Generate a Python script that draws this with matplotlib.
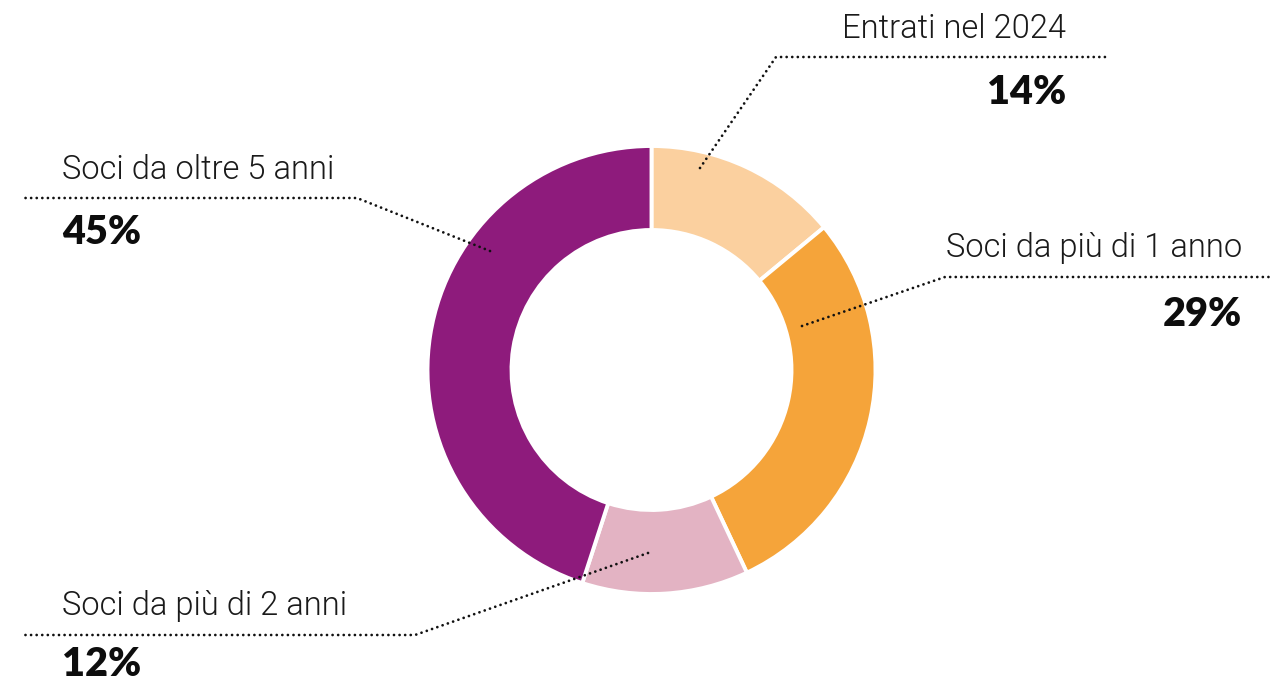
import matplotlib
matplotlib.use("Agg")
import matplotlib.pyplot as plt

labels = ["Entrati nel 2024", "Soci da più di 1 anno", "Soci da più di 2 anni", "Soci da oltre 5 anni"]
values = [14, 29, 12, 45]
colors = ["#FBD09F", "#F5A43A", "#E3B3C3", "#8E1B7C"]
pct_labels = ["14%", "29%", "12%", "45%"]

W, H = 1271, 681
fig = plt.figure(figsize=(W / 100, H / 100), dpi=100)
ax = fig.add_axes([0, 0, 1, 1])
ax.set_xlim(0, W)
ax.set_ylim(0, H)
ax.set_aspect("equal")
ax.axis("off")

cx, cy = 651.5, H - 370
R, r_in = 224, 140
ax.pie(values, colors=colors, startangle=90, counterclock=False,
       center=(cx, cy), radius=R, frame=True,
       wedgeprops=dict(width=R - r_in, edgecolor="white", linewidth=2.8))
ax.set_xlim(0, W)
ax.set_ylim(0, H)
ax.axis("off")

def Y(y):
    return H - y

dot = dict(color="#111111", linewidth=2.0, linestyle=(0, (0.01, 2.0)),
           dash_capstyle="round", solid_capstyle="round")

leaders = [
    [(700, 168), (776, 57), (1105, 57)],
    [(802, 326), (945, 277), (1270, 277)],
    [(648, 553), (415, 635), (25, 635)],
    [(490, 251), (357, 198), (25, 198)],
]
for pts in leaders:
    xs = [p[0] for p in pts]
    ys = [Y(p[1]) for p in pts]
    ax.plot(xs, ys, **dot)

lab_fam = ["Roboto", "DejaVu Sans"]
pct_fam = ["Lato", "DejaVu Sans"]
pos = [
    (1066, 29, 92, "right"),
    (1242, 248, 315, "right"),
    (62, 606, 665, "left"),
    (62, 170, 232, "left"),
]
for (x, ly, py, ha), lab, pct in zip(pos, labels, pct_labels):
    ax.text(x, Y(ly), lab, ha=ha, va="center", fontsize=23.5, family=lab_fam,
            fontweight=300, color="#1a1a1a")
    ax.text(x, Y(py), pct, ha=ha, va="center", fontsize=28.5, family=pct_fam,
            fontweight="heavy", color="#0d0d0d")

fig.savefig("out.png", dpi=100, facecolor="white")
